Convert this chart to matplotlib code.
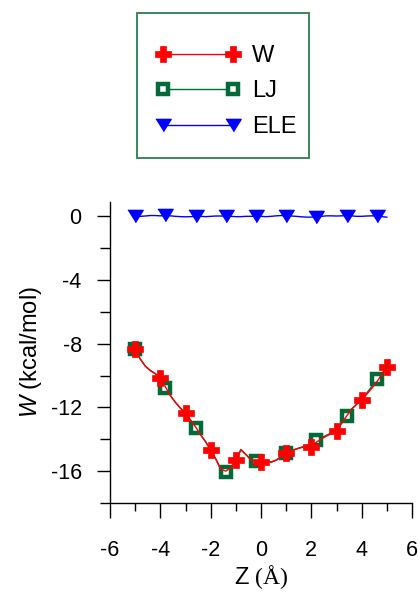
import numpy as np
import matplotlib
matplotlib.use("Agg")
import matplotlib.pyplot as plt
from matplotlib.patches import Rectangle

plt.rcParams['font.family'] = ['Liberation Sans', 'DejaVu Sans']
plt.rcParams['mathtext.fontset'] = 'custom'
plt.rcParams['mathtext.rm'] = 'Liberation Serif'
plt.rcParams['mathtext.it'] = 'Liberation Sans:italic'

# ---- data ----
z = [-5.0, -4.8, -4.6, -4.4, -4.2, -4.0, -3.8, -3.6, -3.4, -3.2, -3.0,
     -2.8, -2.6, -2.4, -2.2, -2.0, -1.8, -1.6, -1.4, -1.2, -1.0,
     -0.8, -0.6, -0.4, -0.2, 0.0, 0.2, 0.4, 0.6, 0.8, 1.0,
     1.2, 1.4, 1.6, 1.8, 2.0, 2.2, 2.4, 2.6, 2.8, 3.0,
     3.2, 3.4, 3.6, 3.8, 4.0, 4.2, 4.4, 4.6, 4.8, 5.0]
W = [-8.34, -8.95, -9.40, -9.68, -9.88, -10.12, -10.70, -11.26, -11.68, -12.05, -12.32,
     -12.80, -13.22, -13.72, -14.15, -14.68, -15.22, -15.88, -16.00, -15.78, -15.27,
     -14.64, -14.95, -15.30, -15.38, -15.41, -15.44, -15.44, -15.32, -15.12, -14.89,
     -14.72, -14.62, -14.52, -14.48, -14.47, -14.18, -13.98, -13.80, -13.65, -13.47,
     -13.00, -12.55, -12.10, -11.80, -11.54, -11.18, -10.80, -10.40, -9.92, -9.45]
LJ = [-8.34, -8.95, -9.40, -9.68, -9.88, -10.15, -10.75, -11.26, -11.68, -12.05, -12.35,
      -12.80, -13.28, -13.72, -14.15, -14.70, -15.22, -15.88, -16.04, -15.78, -15.30,
      -14.68, -14.95, -15.30, -15.35, -15.40, -15.42, -15.42, -15.30, -15.10, -14.89,
      -14.70, -14.60, -14.50, -14.40, -14.30, -14.05, -13.90, -13.75, -13.60, -13.40,
      -13.00, -12.53, -12.10, -11.80, -11.50, -11.10, -10.70, -10.23, -9.90, -9.45]
ELE = [0.00, 0.00, 0.02, 0.05, 0.05, 0.03, 0.06, 0.03, 0.00, -0.02, -0.03,
       -0.02, 0.00, 0.00, -0.02, 0.00, 0.02, 0.02, 0.02, 0.00, -0.02,
       -0.02, 0.00, 0.00, 0.01, 0.00, -0.02, 0.00, 0.03, 0.05, 0.05,
       0.02, 0.00, -0.03, -0.05, -0.05, -0.02, 0.00, 0.03, 0.03, 0.02,
       0.03, 0.05, 0.03, 0.00, 0.00, 0.02, 0.03, 0.02, -0.02, -0.05]

x_major = [-6, -4, -2, 0, 2, 4, 6]
x_minor = [-5, -3, -1, 1, 3, 5]
y_major = [0, -4, -8, -12, -16]
y_minor = [-2, -6, -10, -14, -18]

# ---- figure ----
W_PX, H_PX = 419, 592
fig = plt.figure(figsize=(W_PX / 100, H_PX / 100), dpi=100)
ax = fig.add_axes([110/W_PX, 89/H_PX, 302/W_PX, 301/H_PX])

red = '#FF0000'
green = '#006B38'
blue = '#0000FF'

tri = [(-1, 0.8), (1, 0.8), (0, -0.8)]

lj_line, = ax.plot(z, LJ, color=green, lw=1.0, marker='s', ms=7.5, mew=3.2,
                   mec=green, mfc='white', markevery=6, label='LJ', zorder=3)
ele_line, = ax.plot(z, ELE, color=blue, lw=1.0, marker=tri, ms=11, mec=blue,
                    mfc=blue, markevery=6, label='ELE', zorder=3)
w_line, = ax.plot(z, W, color=red, lw=1.0, marker='P', ms=12, mec=red, mew=0.5,
                  mfc=red, markevery=5, label='W', zorder=4)

ax.set_xlim(-6, 6)
ax.set_ylim(-18, 0.9)
ax.set_xticks(x_major)
ax.set_xticks(x_minor, minor=True)
ax.set_yticks(y_major)
ax.set_yticks(y_minor, minor=True)
ax.set_xticklabels([str(v) for v in x_major])
ax.set_yticklabels([str(v) for v in y_major])

for s in ['top', 'right']:
    ax.spines[s].set_visible(False)
for s in ['left', 'bottom']:
    ax.spines[s].set_linewidth(1.0)
    ax.spines[s].set_color('black')

ax.tick_params(axis='x', which='major', direction='out', length=10.8, width=1.0,
               pad=16, labelsize=15.5)
ax.tick_params(axis='x', which='minor', direction='out', length=5.8, width=1.0)
ax.tick_params(axis='y', which='major', direction='out', length=9.4, width=1.0,
               pad=11, labelsize=15.5)
ax.tick_params(axis='y', which='minor', direction='out', length=7.5, width=1.0)

ax.set_xlabel('Z ' + r'$\mathrm{(Å)}$', fontsize=17, labelpad=1)
ax.set_ylabel(r'$\mathit{W}$ (kcal/mol)', fontsize=17, labelpad=5)

# legend frame (box) and legend entries
fig.patches.append(Rectangle((137/W_PX, 1 - 158/H_PX), 172/W_PX, 145/H_PX,
                             transform=fig.transFigure, fill=False,
                             edgecolor='#2E7D4F', linewidth=1.3))
leg = fig.legend(handles=[w_line, lj_line, ele_line], labels=['W', 'LJ', 'ELE'],
                 loc='upper left', bbox_to_anchor=(156/W_PX, 1 - 45/H_PX),
                 borderaxespad=0, fontsize=17, numpoints=2, handlelength=3.57,
                 handletextpad=0.5, borderpad=0, labelspacing=0.57,
                 frameon=False)
for h in leg.legend_handles:
    h.set_markevery(None)

fig.savefig('out.png', dpi=100)
